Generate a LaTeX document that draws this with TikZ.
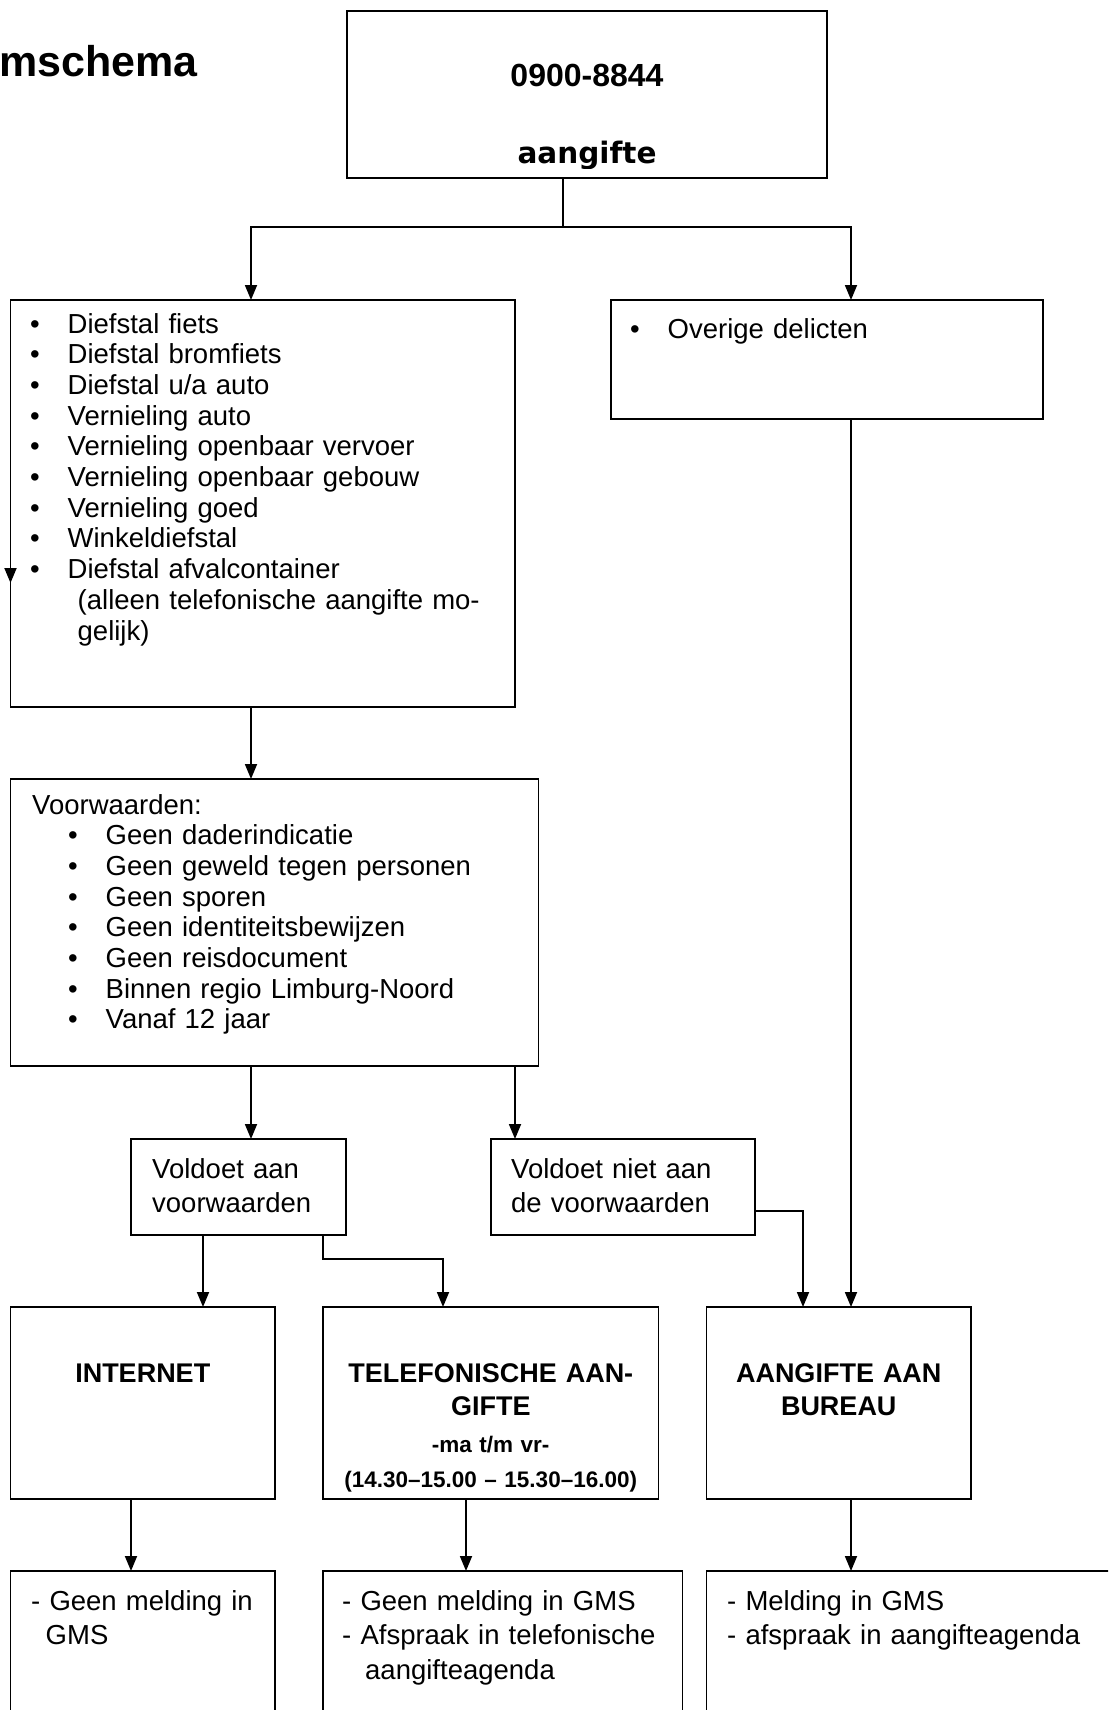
\documentclass[tikz,border=0pt]{standalone}
\usepackage{fontspec}
\setmainfont{Liberation Sans}
\newfontfamily\breedfont{DejaVu Sans}
\usetikzlibrary{arrows.meta}

\newcommand{\punt}{\makebox[37.5pt][l]{\textbullet}}

\begin{document}
\begin{tikzpicture}[x=1pt, y=-1pt,
    vak/.style={draw, line width=1.8pt, inner sep=0pt, outer sep=0pt},
    lijn/.style={line width=1.8pt},
    pijl/.style={line width=1.8pt, -{Triangle[length=15pt, width=12pt]}},
    lijst/.style={anchor=base west, inner sep=0pt, align=left, font=\fontsize{27.5}{30.7}\selectfont},
    regels/.style={anchor=base west, inner sep=0pt, text width=420pt, align=left, font=\fontsize{27.5}{34.5}\selectfont},
    kop/.style={anchor=base, inner sep=0pt, text width=330pt, align=center, font=\bfseries\fontsize{27}{33}\selectfont}]
        % page: 1108 x 1710, the lowest boxes run off the bottom
        \useasboundingbox (0,0) rectangle (1108,1710);
        \clip (0,0) rectangle (1108,1710);

        \node[anchor=base west, inner sep=0pt, font=\bfseries\fontsize{43}{50}\selectfont] (titel) at (-1,76) {mschema};

        % boxes
        \node[vak, minimum width=480pt, minimum height=167pt] (nummer) at (587,94.5) {};
        \node[vak, minimum width=504.5pt, minimum height=407pt] (diefstal) at (262.75,503.5) {};
        \node[vak, minimum width=432pt, minimum height=119pt] (overig) at (827,359.5) {};
        \node[vak, minimum width=528pt, minimum height=287pt] (voorwaarden) at (274.5,922.5) {};
        \node[vak, minimum width=215pt, minimum height=96pt] (voldoet) at (238.5,1187) {};
        \node[vak, minimum width=264pt, minimum height=96pt] (nietvoldoet) at (623,1187) {};
        \node[vak, minimum width=264.5pt, minimum height=192pt] (internet) at (142.75,1403) {};
        \node[vak, minimum width=335.5pt, minimum height=192pt] (telefoon) at (490.75,1403) {};
        \node[vak, minimum width=264.5pt, minimum height=192pt] (bureau) at (838.75,1403) {};
        \node[vak, minimum width=264.5pt, minimum height=189pt] (gmsnee) at (142.75,1665.5) {};
        \node[vak, minimum width=359.5pt, minimum height=189pt] (agendatel) at (502.75,1665.5) {};
        \node[vak, minimum width=423.5pt, minimum height=189pt] (agendabureau) at (918.25,1665.5) {};

        % texts
        \node[anchor=base, inner sep=0pt, font=\bfseries\fontsize{32}{38}\selectfont] (nummertxt) at (587,86) {0900-8844};
        \begin{scope}
            \clip (347,11) rectangle (827,168);
            \node[anchor=base, inner sep=0pt, font=\breedfont\bfseries\fontsize{29.5}{35}\selectfont] (aangiftetxt) at (587,163) {aangifte};
        \end{scope}
        \node[lijst, text width=470pt] (diefstaltxt) at (30,333) {\punt Diefstal fiets\\
            \punt Diefstal bromfiets\\
            \punt Diefstal u/a auto\\
            \punt Vernieling auto\\
            \punt Vernieling openbaar vervoer\\
            \punt Vernieling openbaar gebouw\\
            \punt Vernieling goed\\
            \punt Winkeldiefstal\\
            \punt Diefstal afvalcontainer\\
            \hspace*{47.5pt}(alleen telefonische aangifte mo-\\
            \hspace*{47.5pt}gelijk)};
        \node[lijst, text width=380pt] (overigtxt) at (630,338) {\punt Overige delicten};
        \node[lijst, text width=500pt] (voorwaardentxt) at (32,814) {Voorwaarden:\\
            \hspace*{36pt}\punt Geen daderindicatie\\
            \hspace*{36pt}\punt Geen geweld tegen personen\\
            \hspace*{36pt}\punt Geen sporen\\
            \hspace*{36pt}\punt Geen identiteitsbewijzen\\
            \hspace*{36pt}\punt Geen reisdocument\\
            \hspace*{36pt}\punt Binnen regio Limburg-Noord\\
            \hspace*{36pt}\punt Vanaf 12 jaar};
        \node[regels] (voldoettxt) at (152,1178) {Voldoet aan\\voorwaarden};
        \node[regels] (nietvoldoettxt) at (511,1178) {Voldoet niet aan\\de voorwaarden};
        \node[kop] (internettxt) at (142.75,1382) {INTERNET};
        \node[kop] (telefoontxt) at (490.75,1382) {TELEFONISCHE AAN-\\GIFTE};
        \node[kop, font=\bfseries\fontsize{22.5}{35}\selectfont] (tijdentxt) at (490.75,1452) {-ma t/m vr-\\(14.30–15.00 – 15.30–16.00)};
        \node[kop] (bureautxt) at (838.75,1382) {AANGIFTE AAN\\BUREAU};
        \node[regels] (gmsneetxt) at (31,1610) {- Geen melding in\\\hspace*{14.5pt}GMS};
        \node[regels] (agendateltxt) at (342,1610) {- Geen melding in GMS\\- Afspraak in telefonische\\\hspace*{23pt}aangifteagenda};
        \node[regels] (agendabureautxt) at (727,1610) {- Melding in GMS\\- afspraak in aangifteagenda};

        % connectors
        \coordinate (splits) at (563,227);
        \coordinate (splitsL) at (251,227);
        \coordinate (splitsR) at (851,227);
        \coordinate (nietx) at (515,0);
        \coordinate (internetx) at (203,0);
        \coordinate (telx) at (323,0);
        \coordinate (knik) at (443,1259);
        \coordinate (bureaux) at (803,1211);
        \coordinate (gmsx) at (131,0);
        \coordinate (agendax) at (466,0);
        \coordinate (los1) at (10.5,513);
        \coordinate (los2) at (10.5,583);

        \draw[lijn] (nummer.south -| splits) -- (splits);
        \draw[pijl] (splits) -| (diefstal.north -| splitsL);
        \draw[pijl] (splits) -| (overig.north -| splitsR);
        \draw[pijl] (los1) -- (los2);
        \draw[pijl] (diefstal.south -| splitsL) -- (voorwaarden.north -| splitsL);
        \draw[pijl] (voorwaarden.south -| splitsL) -- (voldoet.north -| splitsL);
        \draw[pijl] (voorwaarden.south -| nietx) -- (nietvoldoet.north -| nietx);
        \draw[pijl] (voldoet.south -| internetx) -- (internet.north -| internetx);
        \draw[pijl] (voldoet.south -| telx) |- (knik) -- (telefoon.north -| knik);
        \draw[pijl] (nietvoldoet.east |- bureaux) -| (bureau.north -| bureaux);
        \draw[pijl] (overig.south -| splitsR) -- (bureau.north -| splitsR);
        \draw[pijl] (internet.south -| gmsx) -- (gmsnee.north -| gmsx);
        \draw[pijl] (telefoon.south -| agendax) -- (agendatel.north -| agendax);
        \draw[pijl] (bureau.south -| splitsR) -- (agendabureau.north -| splitsR);
    \end{tikzpicture}
\end{document}
